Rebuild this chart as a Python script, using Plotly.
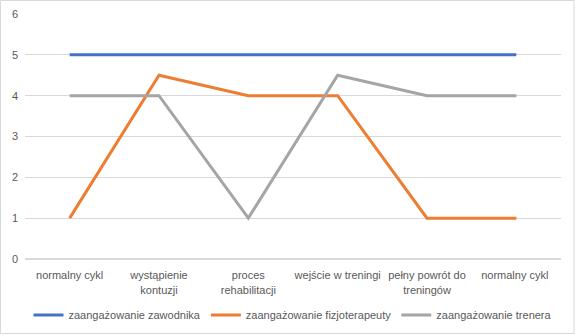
import plotly.graph_objects as go

categories = ["normalny cykl", "wystąpienie<br>kontuzji", "proces<br>rehabilitacji",
              "wejście w treningi", "pełny powrót do<br>treningów", "normalny cykl "]
zawodnik = [5, 5, 5, 5, 5, 5]
fizjoterapeuta = [1, 4.5, 4, 4, 1, 1]
trener = [4, 4, 1, 4.5, 4, 4]

names = ["zaangażowanie zawodnika", "zaangażowanie fizjoterapeuty", "zaangażowanie trenera"]
colors = ["#4472C4", "#ED7D31", "#A5A5A5"]

fig = go.Figure()
for name, vals, col in zip(names, [zawodnik, fizjoterapeuta, trener], colors):
    fig.add_trace(go.Scatter(x=categories, y=vals, mode="lines", name=name,
                             line=dict(color=col, width=3)))

L, R, T, B = 25, 14.5, 14, 77
W, H = 576, 336
pw, ph = W - L - R, H - T - B

fig.update_layout(
    width=W, height=H,
    margin=dict(l=L, r=R, t=T, b=B, autoexpand=False),
    paper_bgcolor="white", plot_bgcolor="white",
    font=dict(family="Liberation Sans, Arial", size=11, color="#595959"),
    showlegend=True,
    legend=dict(orientation="h", x=0.5, xanchor="center", y=-(315 - 259) / ph, yanchor="middle",
                font=dict(size=11, color="#595959"), itemwidth=30),
    xaxis=dict(type="category", range=[-0.5, 5.5], showgrid=False, zeroline=False,
               showline=False, ticks="outside", ticklen=6, tickcolor="rgba(0,0,0,0)",
               automargin=False, tickfont=dict(size=11, color="#595959")),
    yaxis=dict(range=[0, 6], dtick=1, showgrid=True, gridcolor="#D9D9D9", gridwidth=1,
               zeroline=True, zerolinecolor="#D9D9D9", showline=False, ticks="",
               ticklabelstandoff=6, automargin=False,
               tickfont=dict(size=11, color="#595959")),
    shapes=[dict(type="rect", xref="paper", yref="paper",
                 x0=(0.5 - L) / pw, x1=(574.5 - L) / pw,
                 y0=-(B - 2.5) / ph, y1=1 + (T - 0.5) / ph,
                 line=dict(color="#D9D9D9", width=1), fillcolor="rgba(0,0,0,0)", layer="below")],
)

fig.write_html("out.html")
